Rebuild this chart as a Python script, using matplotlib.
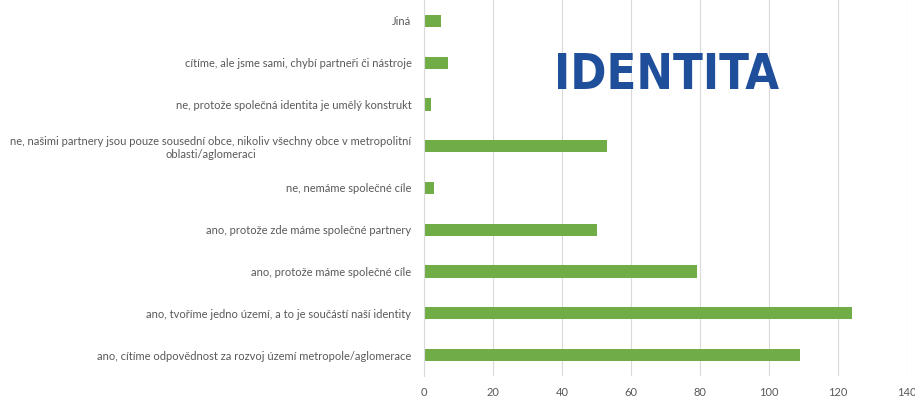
import matplotlib
matplotlib.use('Agg')
import matplotlib.pyplot as plt

categories = [
    'ano, cítíme odpovědnost za rozvoj území metropole/aglomerace',
    'ano, tvoříme jedno území, a to je součástí naší identity',
    'ano, protože máme společné cíle',
    'ano, protože zde máme společné partnery',
    'ne, nemáme společné cíle',
    'ne, našimi partnery jsou pouze sousední obce, nikoliv všechny obce v metropolitní\noblasti/aglomeraci',
    'ne, protože společná identita je umělý konstrukt',
    'cítíme, ale jsme sami, chybí partneři či nástroje',
    'Jiná',
]
values = [109, 124, 79, 50, 3, 53, 2, 7, 5]
xticks = [0, 20, 40, 60, 80, 100, 120, 140]

plt.rcParams['font.family'] = ['Lato', 'DejaVu Sans']

fig = plt.figure(figsize=(9.15, 4), dpi=100)
ax = fig.add_axes([424 / 915, 24 / 400, (907 - 424) / 915, 376 / 400])

ypos = list(range(len(categories)))
ax.barh(ypos, values, height=0.29, color='#70AD47', zorder=3)

ax.set_xlim(0, 140)
ax.set_ylim(-0.5, len(categories) - 0.5)
ax.set_xticks(xticks)
ax.set_yticks(ypos)
ax.set_yticklabels(categories)
for lab in ax.get_yticklabels():
    lab.set_multialignment('center')

ax.tick_params(axis='both', length=0, labelsize=8.0, labelcolor='#595959')
ax.tick_params(axis='y', pad=9)
ax.tick_params(axis='x', pad=8)
ax.xaxis.grid(True, color='#D9D9D9', linewidth=0.8, zorder=0)
for s in ['top', 'right', 'bottom']:
    ax.spines[s].set_visible(False)
ax.spines['left'].set_color('#D9D9D9')
ax.spines['left'].set_zorder(4)

# title-like label inside the plot area
fig.text(667 / 915, 1 - 89 / 400, 'IDENTITA', ha='center', va='baseline',
         fontsize=35, fontweight='bold', color='#1F4E9A',
         family='DejaVu Sans', fontstretch='condensed')

fig.savefig('out.png', dpi=100)
